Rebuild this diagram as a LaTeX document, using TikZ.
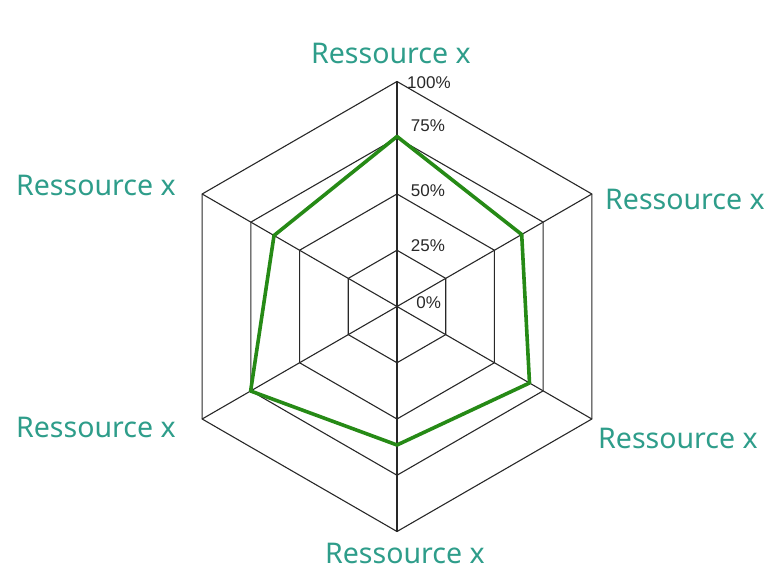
\documentclass[tikz,border=0pt]{standalone}
\usepackage{xcolor}
\usepackage{fontspec}
\setmainfont{Liberation Sans}
\newfontfamily\resfont{Noto Sans}
\usetikzlibrary{calc,positioning}
\definecolor{resteal}{RGB}{46,157,138}
\definecolor{resgreen}{RGB}{38,138,22}
\definecolor{gridgray}{RGB}{40,40,40}
\tikzset{
  gridline/.style={draw=gridgray, line width=1.1bp},
  valueline/.style={draw=resgreen, line width=3.6bp, line join=round},
  reslabel/.style={anchor=base west, inner sep=0pt, text=resteal, font=\resfont\fontsize{28.5bp}{32bp}\selectfont},
  pctlabel/.style={anchor=base west, inner sep=0pt, text=gridgray, font=\fontsize{17bp}{20bp}\selectfont}
}

\begin{document}
\begin{tikzpicture}[x=1bp,y=1bp]
    \useasboundingbox (-397,-264.5) rectangle (384,306.5);

    % draw the rings
    \foreach \r in {56.25,112.5,168.75,225}
        \draw[gridline] (90:\r) -- (30:\r) -- (-30:\r) -- (-90:\r) -- (-150:\r) -- (150:\r) -- cycle;

    % draw the spokes
    \coordinate (c) at (0,0);
    \foreach \a in {90,30,-30,-90,-150,150}
        \draw[gridline] (c) -- (\a:225);

    % draw the values
    \draw[valueline] (90:170) -- (30:144) -- (-30:153) -- (-90:138.5) -- (-150:169) -- (150:142) -- cycle;

    % label the scale
    \node[pctlabel] (p100) at (10,218.2) {100\%};
    \node[pctlabel] (p75) at (13.7,174.8) {75\%};
    \node[pctlabel] (p50) at (13.7,109.8) {50\%};
    \node[pctlabel] (p25) at (13.7,54.8) {25\%};
    \node[pctlabel] (p0) at (19.3,-1.8) {0\%};

    % label the axes
    \node[reslabel] (rtop) at (-86,243.2) {Ressource x};
    \node[reslabel] (rur) at (208,96.5) {Ressource x};
    \node[reslabel] (rlr) at (201,-141.8) {Ressource x};
    \node[reslabel] (rbot) at (-72,-256.5) {Ressource x};
    \node[reslabel] (rll) at (-381,-130.8) {Ressource x};
    \node[reslabel] (rul) at (-381,110.5) {Ressource x};
\end{tikzpicture}
\end{document}
